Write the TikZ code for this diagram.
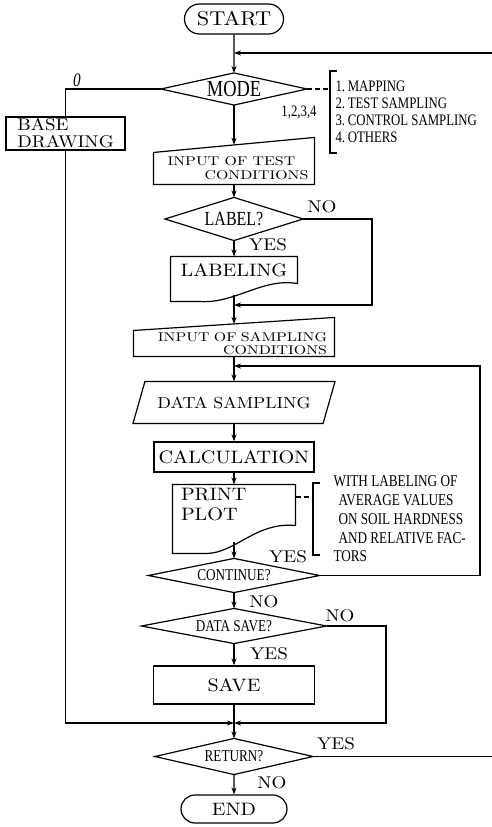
\documentclass[tikz,border=0pt]{standalone}
\usepackage{fontspec}
\setmainfont{lmroman10-regular.otf}[FakeStretch=1.12]
\newfontfamily\condfont{Liberation Serif}[FakeStretch=0.8]
\newfontfamily\widefont{lmroman10-regular.otf}[FakeStretch=1.25]
\usetikzlibrary{shapes.misc,arrows.meta}
\newcommand{\fsz}[2]{\fontsize{#1}{#2}\selectfont}

\begin{document}
\begin{tikzpicture}[x=1pt,y=-1pt,line width=1.1pt,
	arr/.style={-{Stealth[length=7pt,width=5pt]}},
	term/.style={draw,rounded rectangle,line width=1.2pt,inner sep=0pt,font=\fsz{20}{24}},
	box/.style={draw,rectangle,line width=1.2pt,inner sep=0pt,font=\fsz{18}{20}},
	test/.style={rectangle,inner sep=0pt,font=\condfont\fsz{16.5}{18}},
	body/.style={rectangle,inner sep=0pt},
	shape line/.style={line width=1.2pt},
	yn/.style={inner sep=0pt,font=\fsz{17}{18}},
	note/.style={anchor=west,inner ysep=0pt,align=left},
	dashline/.style={dash pattern=on 5pt off 3pt}]
	\useasboundingbox (0,0) rectangle (492,827);
	%main column
	\node[term,minimum width=99pt,minimum height=30pt] (start) at (234,19) {START};
	\node[test,minimum width=145pt,minimum height=31pt,font=\condfont\fsz{23}{24}] (mode) at (234,89) {MODE};
	\node[body,minimum width=160pt,minimum height=31pt,align=left,
		font=\widefont\fsz{12.7}{14}] (testin) at (234,168.5)
		{\hspace*{8pt}INPUT OF TEST\\\hspace*{45pt}CONDITIONS};
	\draw[shape line] (testin.south west) -- (testin.south east) -- ([yshift=15pt]testin.north east)
		-- (testin.north west) -- cycle;
	\node[test,minimum width=137pt,minimum height=42pt,font=\condfont\fsz{20}{22}] (label) at (234,219) {LABEL?};
	\node[body,minimum width=126pt,minimum height=26pt,font=\fsz{18}{20}] (labeling) at (234,270) {LABELING};
	\draw[shape line] ([yshift=-18pt]labeling.south west) -- (labeling.north west) -- (labeling.north east)
		-- (labeling.south east) .. controls +(-35,-6) and +(35,2) .. ([xshift=30pt,yshift=-18pt]labeling.south west) -- cycle;
	\node[body,minimum width=200pt,minimum height=25pt,text width=186pt,inner xsep=7pt,align=right,
		font=\widefont\fsz{12.7}{12.5}] (sampin) at (234,343.5)
		{INPUT OF SAMPLING\\CONDITIONS\hspace*{2pt}};
	\draw[shape line] (sampin.south west) -- (sampin.south east) -- ([yshift=13pt]sampin.north east)
		-- (sampin.north west) -- cycle;
	\node[body,minimum width=201pt,minimum height=41pt,font=\fsz{16}{18}] (dsamp) at (234,402.5) {DATA SAMPLING};
	\draw[shape line] (dsamp.south west) -- ([xshift=12pt]dsamp.north west) -- (dsamp.north east)
		-- ([xshift=-12pt]dsamp.south east) -- cycle;
	\node[box,minimum width=160pt,minimum height=30pt] (calc) at (234,457) {CALCULATION};
	\node[body,minimum width=122pt,minimum height=40pt,text width=106pt,inner xsep=8pt,align=left,
		font=\fsz{18}{20}] (print) at (234,505) {PRINT\\PLOT};
	\draw[shape line] ([yshift=-28pt]print.south west) -- (print.north west) -- (print.north east)
		-- (print.south east) .. controls +(-40,-4) and +(30,0) .. ([xshift=33pt,yshift=-28pt]print.south west) -- cycle;
	\node[test,minimum width=170pt,minimum height=33pt] (cont) at (234,575.5) {CONTINUE?};
	\node[test,minimum width=184pt,minimum height=34pt] (dsave) at (234,626) {DATA SAVE?};
	\node[box,minimum width=161pt,minimum height=38pt] (save) at (234,685) {SAVE};
	\node[test,minimum width=157pt,minimum height=35pt] (ret) at (234,756.5) {RETURN?};
	\node[term,minimum width=106pt,minimum height=28pt,font=\fsz{18}{20}] (finish) at (234,809) {END};
	%decisions
	\foreach \n in {mode,label,cont,dsave,ret}
	\draw[shape line] (\n.west) -- (\n.north) -- (\n.east) -- (\n.south) -- cycle;
	%side column
	\node[box,minimum width=119pt,minimum height=33pt,align=left,font=\fsz{17}{17}] (base) at (65.5,133.5) {BASE\\DRAWING};
	%notes
	\node[note,inner xsep=5pt,font=\condfont\fsz{16}{17}] (modes) at (330,112)
		{1.\,MAPPING\\2.\,TEST SAMPLING\\3.\,CONTROL SAMPLING\\4.\,OTHERS};
	\draw ([xshift=7pt,yshift=41pt]modes.west) -- ([yshift=41pt]modes.west) -- ([yshift=-41pt]modes.west) -- ++(7,0);
	\draw[dashline] (mode.east) -- (mode.east -| modes.west);
	\node[note,inner xsep=20pt,font=\condfont\fsz{16.5}{18.8}] (remark) at (313,519)
		{WITH LABELING OF\\\hspace*{5pt}AVERAGE VALUES\\\hspace*{5pt}ON SOIL HARDNESS\\\hspace*{5pt}AND RELATIVE FAC-\\TORS};
	\draw ([xshift=7pt,yshift=36pt]remark.west) -- ([yshift=36pt]remark.west) -- ([yshift=-36pt]remark.west) -- ++(7,0);
	\path ([yshift=8pt]print.east) coordinate (pe);
	\draw[dashline] (pe) -- (pe -| remark.west);
	%labels
	\node[inner sep=0pt,font=\condfont\itshape\fsz{19}{19}] (zero) at (77,80) {0};
	\node[inner sep=0pt,font=\condfont\fsz{16}{16}] (rest) at (299,112) {1,2,3,4};
	\node[yn] (labno) at (322,207) {NO};
	\node[yn] (labyes) at (268,245) {YES};
	\node[yn] (contyes) at (288,557) {YES};
	\node[yn] (contno) at (264,602) {NO};
	\node[yn] (saveno) at (340,616) {NO};
	\node[yn] (saveyes) at (269,654) {YES};
	\node[yn] (retyes) at (336,744) {YES};
	\node[yn] (retno) at (272,783) {NO};
	%joins
	\coordinate (j1) at (234,53);
	\coordinate (j2) at (234,305);
	\coordinate (j3) at (234,366);
	\coordinate (j4) at (234,723);
	\coordinate (edge) at (497,0);
	\coordinate (rim) at (480,0);
	\coordinate (nob) at (372,0);
	\coordinate (nos) at (386,0);
	%connectors
	\draw[arr] (start) -- (mode);
	\draw[arr] (mode) -- ([yshift=7.6pt]testin.north);
	\draw[arr] (testin) -- (label);
	\draw[arr] (label) -- (labeling);
	\draw[arr] ([yshift=-11pt]labeling.south) -- ([yshift=6.5pt]sampin.north);
	\draw[arr] (sampin) -- (dsamp);
	\draw[arr] (dsamp) -- (calc);
	\draw[arr] (calc) -- (print);
	\draw[arr] ([yshift=-16pt]print.south) -- (cont);
	\draw[arr] (cont) -- (dsave);
	\draw[arr] (dsave) -- (save);
	\draw (save) -- (j4);
	\draw[arr] (j4) -- (ret);
	\draw[arr] (ret) -- (finish);
	\draw (mode) -| (base);
	\draw[arr] (base) |- (j4);
	\draw[arr] (label.east) -- (label.east -| nob) |- (j2);
	\draw[arr] (cont.east) -- (cont.east -| rim) |- (j3);
	\draw[arr] (dsave.east) -- (dsave.east -| nos) |- (j4);
	\draw[arr] (ret.east) -- (ret.east -| edge) |- (j1);
\end{tikzpicture}
\end{document}
